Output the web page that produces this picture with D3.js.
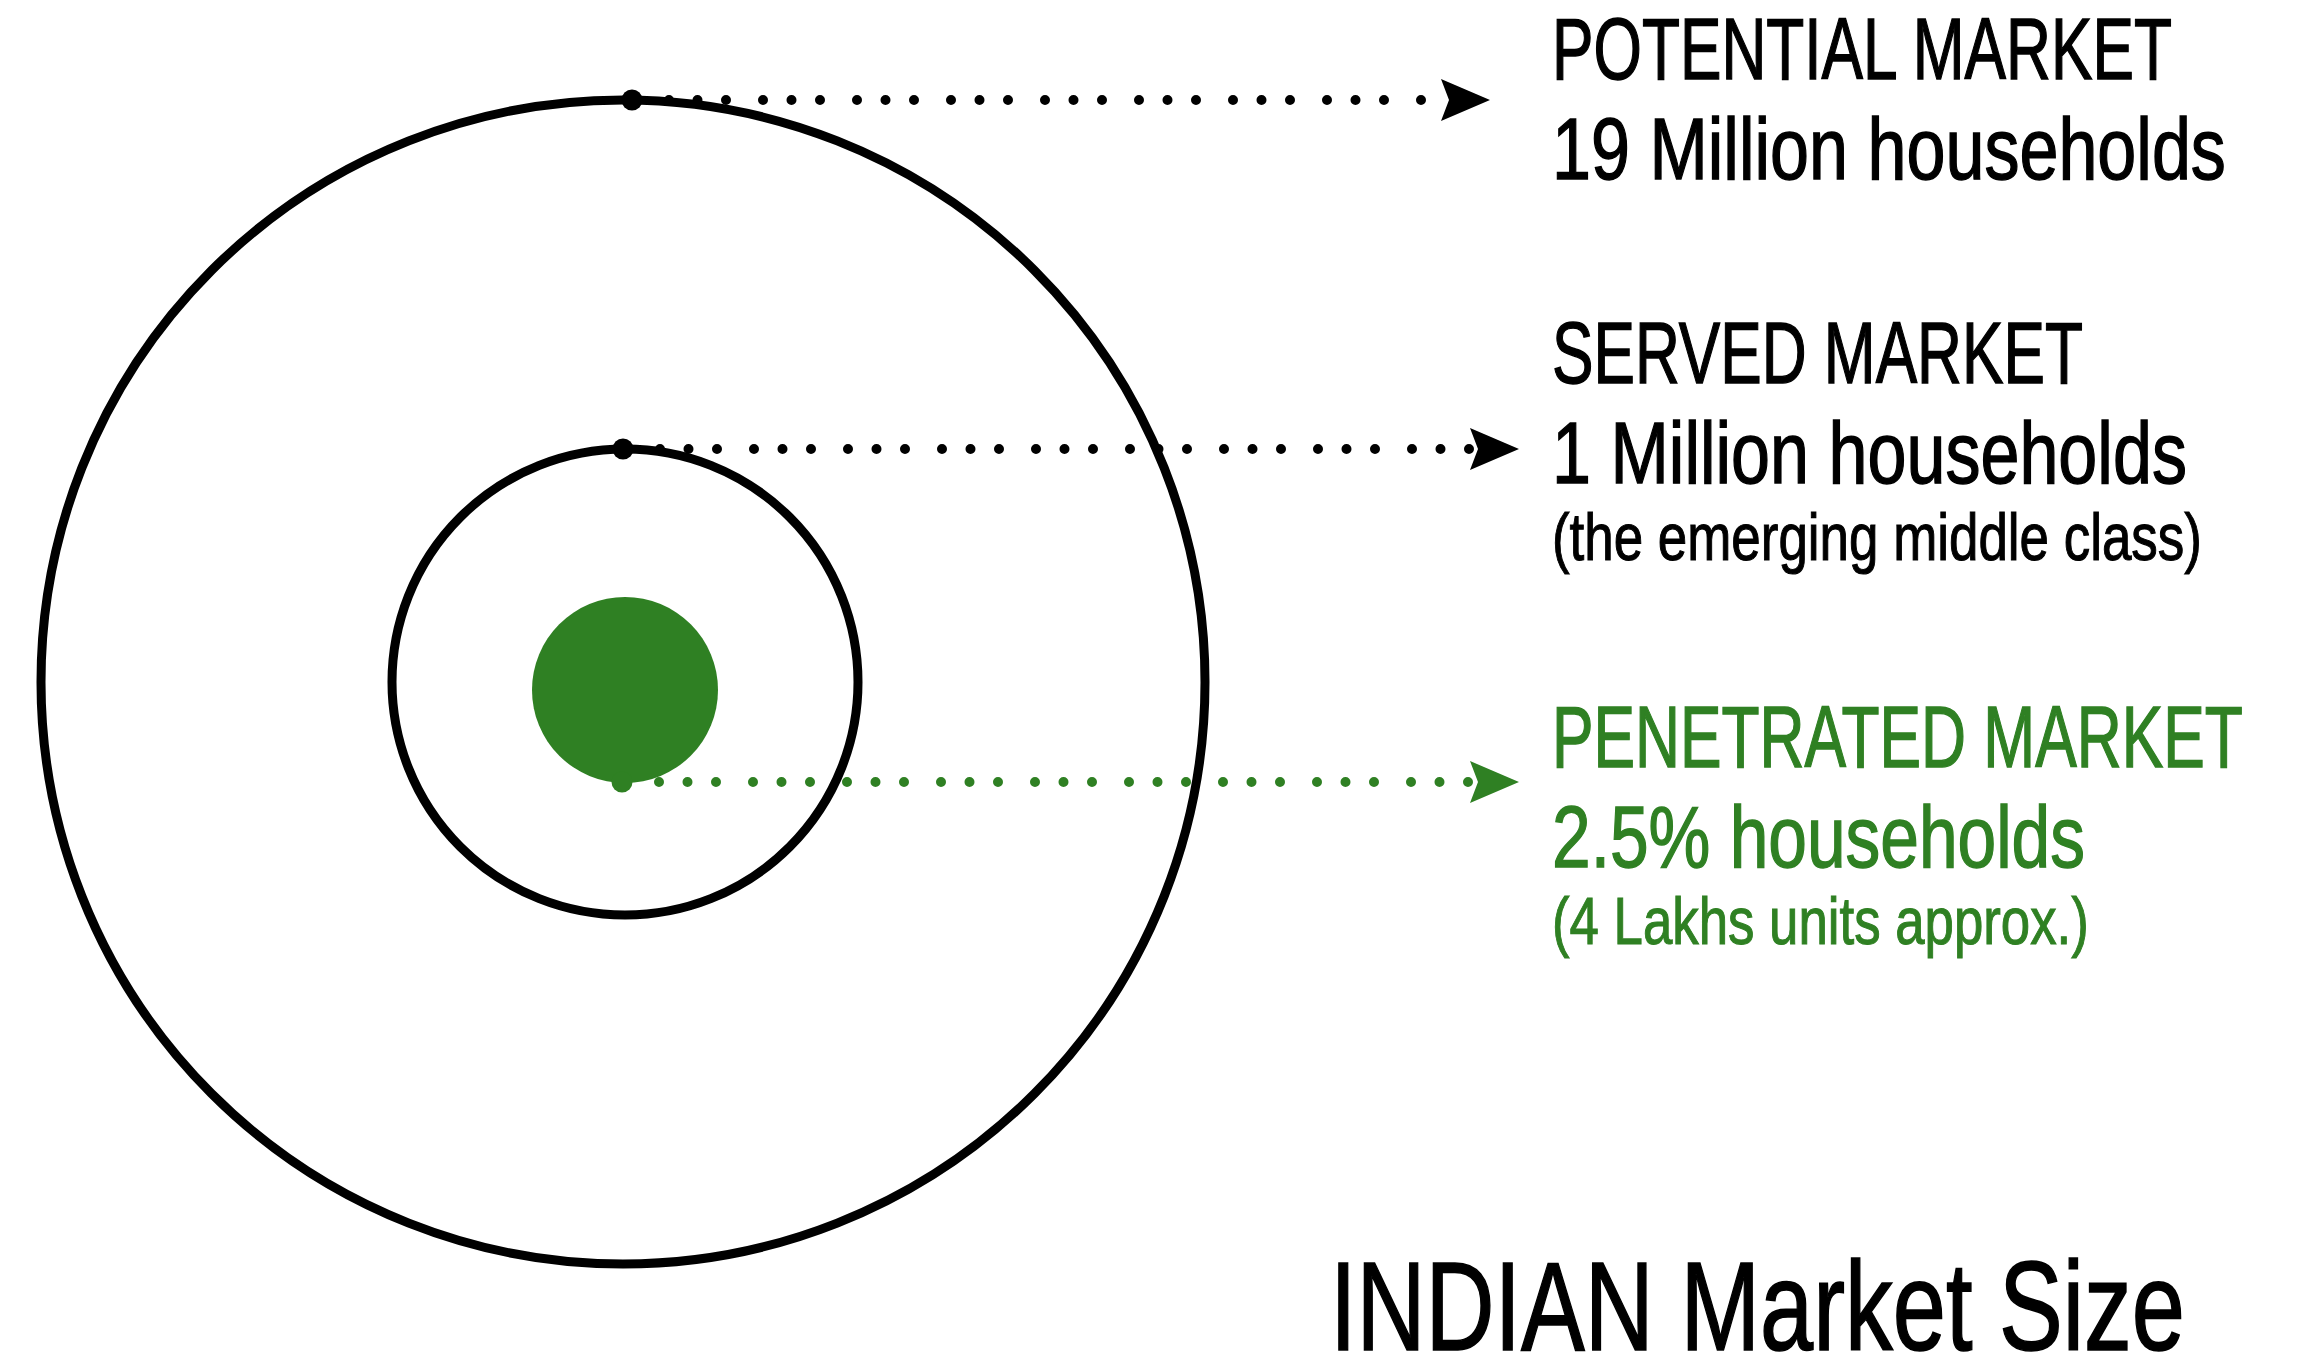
<!DOCTYPE html>
<html>
<head>
<meta charset="utf-8">
<script src="https://cdn.jsdelivr.net/npm/d3@7"></script>
<style>
  body { margin: 0; background: #fff; }
  svg { display: block; }
  text { font-family: "Liberation Sans Narrow", "Liberation Sans", Arial, sans-serif; }
</style>
</head>
<body>
<svg id="chart" width="2305" height="1358"></svg>
<script>
// market rings, outer to inner
var markets = ["POTENTIAL MARKET", "SERVED MARKET", "PENETRATED MARKET"];
var amounts = ["19 Million households", "1 Million households", "2.5% households"];
var notes   = ["", "(the emerging middle class)", "(4 Lakhs units approx.)"];
var title   = "INDIAN Market Size";


var GREEN = "#2f8023";

// layout (pixels)
var ringScale   = d3.scaleOrdinal().domain(markets).range([582, 233, 93]);
var centerScale = d3.scaleOrdinal().domain(markets).range([[623, 682], [625, 682], [625, 690]]);
var pointerY    = d3.scaleOrdinal().domain(markets).range([100, 449, 782]);
var pointerX0   = d3.scaleOrdinal().domain(markets).range([632, 623, 622]);
var arrowTip    = d3.scaleOrdinal().domain(markets).range([1490, 1519, 1519]);
var labelY      = d3.scaleOrdinal().domain(markets).range([79, 383, 767]);
var colorScale  = d3.scaleOrdinal().domain(markets).range(["#000", "#000", GREEN]);

var labelX = 1552;
// widths the condensed face takes in the picture
var headWidth = [620, 531, 691];
var amountWidth = [674, 635, 533];
var noteWidth = [0, 650, 537];


// squeeze a text horizontally to the width it has in the picture
function condense(sel, x, y, width)
{
  sel.each(function(d, i) {
    var node = this;
    var w = node.getComputedTextLength();
    var sx = width(d, i) / w;
    d3.select(node)
      .attr("x", 0)
      .attr("y", 0)
      .attr("transform", "translate(" + x(d, i) + "," + y(d, i) + ") scale(" + sx + ",1)");
  });
}


function drawRings(svg)
{
  var g = svg.append("g").attr("class", "rings");

  g.selectAll("circle.ring")
    .data(markets)
    .enter()
    .append("circle")
    .attr("class", "ring")
    .attr("cx", function(d) { return centerScale(d)[0]; })
    .attr("cy", function(d) { return centerScale(d)[1]; })
    .attr("r", function(d) { return ringScale(d); })
    .attr("fill", function(d, i) { return i == 2 ? GREEN : "none"; })
    .attr("stroke", function(d, i) { return i == 2 ? "none" : "#000"; })
    .attr("stroke-width", 9);
}


function drawPointers(svg)
{
  var g = svg.append("g").attr("class", "pointers");
  var line = d3.line();

  var p = g.selectAll("g.pointer")
    .data(markets)
    .enter()
    .append("g")
    .attr("class", "pointer");

  p.append("path")
    .attr("fill", "none")
    .attr("stroke", function(d) { return colorScale(d); })
    .attr("stroke-width", 10)
    .attr("stroke-linecap", "round")
    .attr("stroke-dasharray", "0 37 0 28.5 0 28.5")
    .attr("d", function(d) {
      return line([[pointerX0(d), pointerY(d)], [arrowTip(d) - 41, pointerY(d)]]);
    });

  p.append("circle")
    .attr("cx", function(d) { return pointerX0(d); })
    .attr("cy", function(d) { return pointerY(d); })
    .attr("r", 10.5)
    .attr("fill", function(d) { return colorScale(d); });

  p.append("path")
    .attr("fill", function(d) { return colorScale(d); })
    .attr("transform", function(d) { return "translate(" + arrowTip(d) + "," + pointerY(d) + ")"; })
    .attr("d", line([[0, 0], [-49, -21], [-41, 0], [-49, 21]]) + "Z");
}


function drawLabels(svg)
{
  var g = svg.append("g").attr("class", "labels");
  var lx = function() { return labelX; };

  var lab = g.selectAll("g.label")
    .data(markets)
    .enter()
    .append("g")
    .attr("class", "label")
    .attr("fill", function(d) { return colorScale(d); })
    .attr("stroke", function(d) { return colorScale(d); })
    .attr("stroke-width", 1.4);

  lab.append("text")
    .attr("font-size", 87)
    .text(function(d) { return d; })
    .call(condense, lx,
          function(d) { return labelY(d); },
          function(d) { return headWidth[markets.indexOf(d)]; });

  lab.append("text")
    .attr("font-size", 87)
    .text(function(d) { return amounts[markets.indexOf(d)]; })
    .call(condense, lx,
          function(d) { return labelY(d) + 100; },
          function(d) { return amountWidth[markets.indexOf(d)]; });

  lab.filter(function(d) { return notes[markets.indexOf(d)] != ""; })
    .append("text")
    .attr("font-size", 67)
    .attr("stroke-width", 1.1)
    .text(function(d) { return notes[markets.indexOf(d)]; })
    .call(condense, lx,
          function(d) { return labelY(d) + 177; },
          function(d) { return noteWidth[markets.indexOf(d)]; });

  svg.append("text")
    .datum(title)
    .attr("class", "title")
    .attr("font-size", 126)
    .attr("fill", "#000")
    .attr("stroke", "#000")
    .attr("stroke-width", 1.6)
    .text(title)
    .call(condense,
          function() { return 1330; },
          function() { return 1350; },
          function() { return 855; });
}


var svg = d3.select("#chart");
drawRings(svg);
drawPointers(svg);
drawLabels(svg);
</script>
</body>
</html>
